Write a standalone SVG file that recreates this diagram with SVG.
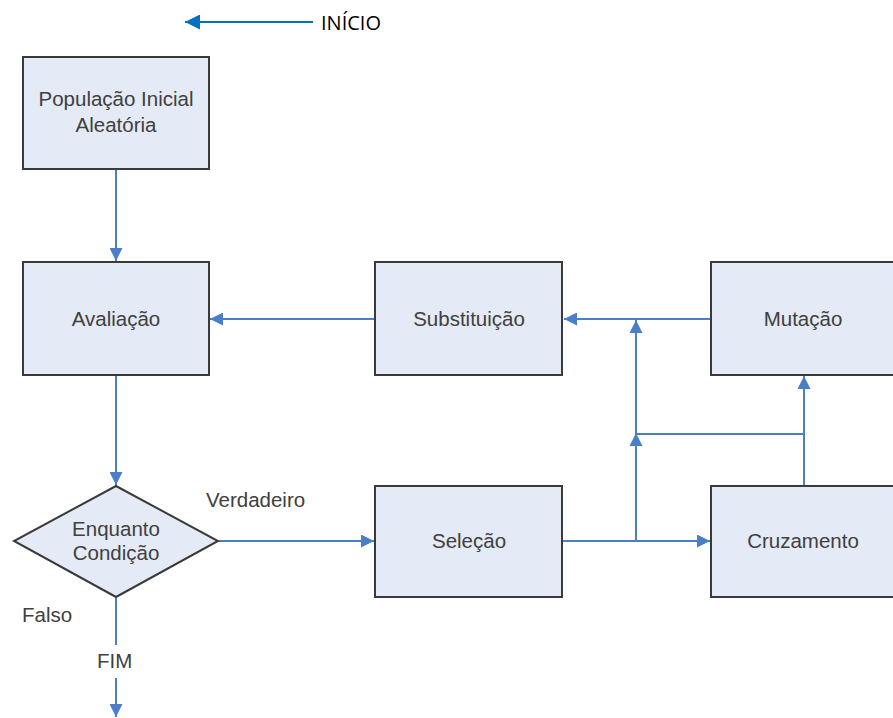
<svg xmlns="http://www.w3.org/2000/svg" width="893" height="718" viewBox="0 0 893 718">
<defs>
<style>
.box{fill:#E4EAF6;stroke:#3a3a3a;stroke-width:2}
.lbl{font-family:"Liberation Sans",Arial,sans-serif;font-size:20.5px;fill:#404040;text-anchor:middle}
.free{font-family:"Liberation Sans",Arial,sans-serif;font-size:20.5px;fill:#404040}
.ln{stroke:#4A7EC7;stroke-width:2;fill:none}
</style>
<marker id="ah" viewBox="0 0 10 10" refX="10" refY="5" markerWidth="13" markerHeight="13" markerUnits="userSpaceOnUse" orient="auto">
<path d="M0,0 L10,5 L0,10 z" fill="#4A7EC7"/>
</marker>
<marker id="ah2" viewBox="0 0 10 10" refX="10" refY="5" markerWidth="15" markerHeight="15" markerUnits="userSpaceOnUse" orient="auto">
<path d="M0,0 L10,5 L0,10 z" fill="#0070C0"/>
</marker>
</defs>
<rect width="893" height="718" fill="#ffffff"/>

<g id="inicio">
<line x1="313" y1="22" x2="185" y2="22" stroke="#0070C0" stroke-width="2" marker-end="url(#ah2)"/>
<text x="321" y="30" font-family="'Open Sans','Liberation Sans',sans-serif" font-size="20" fill="#000">INÍCIO</text>
</g>

<g id="connectors">
<line class="ln" x1="116" y1="170" x2="116" y2="261" marker-end="url(#ah)"/>
<line class="ln" x1="116" y1="376" x2="116" y2="485" marker-end="url(#ah)"/>
<line class="ln" x1="218" y1="541" x2="374" y2="541" marker-end="url(#ah)"/>
<line class="ln" x1="563" y1="541" x2="710" y2="541" marker-end="url(#ah)"/>
<line class="ln" x1="636" y1="541" x2="636" y2="433" marker-end="url(#ah)"/>
<line class="ln" x1="636" y1="434" x2="636" y2="320" marker-end="url(#ah)"/>
<line class="ln" x1="636" y1="434" x2="804" y2="434"/>
<line class="ln" x1="804" y1="486" x2="804" y2="376" marker-end="url(#ah)"/>
<line class="ln" x1="711" y1="319" x2="564" y2="319" marker-end="url(#ah)"/>
<line class="ln" x1="375" y1="319" x2="210" y2="319" marker-end="url(#ah)"/>
<line class="ln" x1="116" y1="598" x2="116" y2="645"/>
<line class="ln" x1="116" y1="678" x2="116" y2="717" marker-end="url(#ah)"/>
</g>

<g id="n-populacao">
<rect class="box" x="23" y="57" width="186" height="112"/>
<text class="lbl" x="116" y="106">População Inicial</text>
<text class="lbl" x="116" y="132">Aleatória</text>
</g>

<g id="n-avaliacao">
<rect class="box" x="23" y="262" width="186" height="113"/>
<text class="lbl" x="116" y="326">Avaliação</text>
</g>

<g id="n-enquanto">
<polygon class="box" points="116,486 218,541 116,597 14,541"/>
<text class="lbl" x="116" y="536">Enquanto</text>
<text class="lbl" x="116" y="560">Condição</text>
</g>

<g id="n-selecao">
<rect class="box" x="375" y="486" width="187" height="111"/>
<text class="lbl" x="469" y="548">Seleção</text>
</g>

<g id="n-cruzamento">
<rect class="box" x="711" y="486" width="186" height="111"/>
<text class="lbl" x="803" y="548">Cruzamento</text>
</g>

<g id="n-mutacao">
<rect class="box" x="711" y="262" width="186" height="113"/>
<text class="lbl" x="803" y="326">Mutação</text>
</g>

<g id="n-substituicao">
<rect class="box" x="375" y="262" width="187" height="113"/>
<text class="lbl" x="469" y="326">Substituição</text>
</g>

<g id="labels">
<text class="free" x="206" y="507">Verdadeiro</text>
<text class="free" x="22" y="622">Falso</text>
<text class="free" x="97" y="668">FIM</text>
</g>
</svg>
